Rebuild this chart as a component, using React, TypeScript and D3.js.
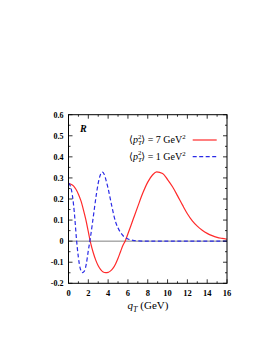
import * as d3 from "d3";

const W = 266;
const H = 344;
// plot frame in page pixels
const FRAME = { left: 68.5, right: 227, top: 114.7, bottom: 283.3 };

const X_DOMAIN = [0, 16];
const Y_DOMAIN = [-0.2, 0.6];

// <pT^2> = 7 GeV^2 (solid red)
const redQ = [0, 0.25, 0.5, 0.75, 1, 1.25, 1.5, 1.75, 2, 2.25, 2.5, 2.75, 3, 3.25, 3.5, 3.75, 4, 4.25, 4.5, 4.75, 5, 5.25, 5.5, 5.75, 6, 6.5, 7, 7.5, 8, 8.5, 8.9, 9.5, 10, 10.5, 11, 11.5, 12, 12.5, 13, 13.5, 14, 14.5, 15, 15.5, 16];
const redR = [0.273, 0.27, 0.262, 0.246, 0.223, 0.192, 0.15, 0.102, 0.045, -0.012, -0.055, -0.09, -0.117, -0.135, -0.146, -0.149, -0.148, -0.141, -0.128, -0.108, -0.081, -0.05, -0.02, 0.003, 0.035, 0.1, 0.165, 0.228, 0.28, 0.315, 0.329, 0.321, 0.292, 0.258, 0.216, 0.172, 0.13, 0.096, 0.071, 0.052, 0.037, 0.026, 0.018, 0.013, 0.009];

// <pT^2> = 1 GeV^2 (dashed blue)
const blueQ = [0, 0.2, 0.4, 0.6, 0.8, 1, 1.2, 1.4, 1.6, 1.8, 2, 2.2, 2.4, 2.6, 2.8, 3, 3.2, 3.4, 3.6, 3.8, 4, 4.2, 4.4, 4.6, 4.8, 5, 5.2, 5.4, 5.6, 5.8, 6, 6.5, 7, 8, 10, 12, 14, 16];
const blueR = [0.276, 0.26, 0.215, 0.13, 0.012, -0.078, -0.132, -0.149, -0.142, -0.107, -0.045, 0.013, 0.08, 0.15, 0.218, 0.275, 0.313, 0.328, 0.318, 0.287, 0.25, 0.205, 0.16, 0.118, 0.085, 0.063, 0.045, 0.032, 0.021, 0.015, 0.01, 0.004, 0.001, 0, 0, 0, 0, 0];

const RED = "#ff2a2a";
const BLUE = "#2a2ae6";
const SERIF = "'Liberation Serif', 'DejaVu Serif', serif";

const fmtY = (t: number) => {
  const v = Math.round(t * 10) / 10;
  return v === 0 ? "0" : v.toFixed(1);
};

export default function App() {
  const x = d3.scaleLinear().domain(X_DOMAIN).range([FRAME.left, FRAME.right]);
  const y = d3.scaleLinear().domain(Y_DOMAIN).range([FRAME.bottom, FRAME.top]);

  const line = d3
    .line<[number, number]>()
    .x((d) => x(d[0]))
    .y((d) => y(d[1]))
    .curve(d3.curveMonotoneX);

  const red = line(redQ.map((q, i) => [q, redR[i]] as [number, number])) || "";
  const blue = line(blueQ.map((q, i) => [q, blueR[i]] as [number, number])) || "";

  const xMajor = x.ticks(8);
  const xMinor = x.ticks(16).filter((t) => !xMajor.includes(t));
  const yMajor = y.ticks(8);
  const yMinor = d3.range(-0.15, 0.6, 0.1);

  const tickColor = "#000";

  return (
    <svg
      width={W}
      height={H}
      style={{ position: "absolute", left: 0, top: 0, background: "#fff" }}
      fontFamily={SERIF}>
      <defs>
        <clipPath id="plot">
          <rect x={FRAME.left} y={FRAME.top} width={FRAME.right - FRAME.left} height={FRAME.bottom - FRAME.top} />
        </clipPath>
      </defs>

      {/* zero line */}
      <line x1={FRAME.left} x2={FRAME.right} y1={y(0)} y2={y(0)} stroke="#808080" strokeWidth={1} />

      {/* curves */}
      <g clipPath="url(#plot)" fill="none">
        <path d={red} stroke={RED} strokeWidth={1.2} />
        <path d={blue} stroke={BLUE} strokeWidth={1.2} strokeDasharray="4 2.5" />
      </g>

      {/* ticks on all four sides, inward */}
      {xMajor.map((t) => (
        <g key={"xM" + t} stroke={tickColor} strokeWidth={0.8}>
          <line x1={x(t)} x2={x(t)} y1={FRAME.bottom} y2={FRAME.bottom - 4} />
          <line x1={x(t)} x2={x(t)} y1={FRAME.top} y2={FRAME.top + 4} />
        </g>
      ))}
      {xMinor.map((t) => (
        <g key={"xm" + t} stroke={tickColor} strokeWidth={0.8}>
          <line x1={x(t)} x2={x(t)} y1={FRAME.bottom} y2={FRAME.bottom - 2} />
          <line x1={x(t)} x2={x(t)} y1={FRAME.top} y2={FRAME.top + 2} />
        </g>
      ))}
      {yMajor.map((t) => (
        <g key={"yM" + t} stroke={tickColor} strokeWidth={0.8}>
          <line x1={FRAME.left} x2={FRAME.left + 4} y1={y(t)} y2={y(t)} />
          <line x1={FRAME.right} x2={FRAME.right - 4} y1={y(t)} y2={y(t)} />
        </g>
      ))}
      {yMinor.map((t) => (
        <g key={"ym" + t} stroke={tickColor} strokeWidth={0.8}>
          <line x1={FRAME.left} x2={FRAME.left + 2} y1={y(t)} y2={y(t)} />
          <line x1={FRAME.right} x2={FRAME.right - 2} y1={y(t)} y2={y(t)} />
        </g>
      ))}

      {/* frame */}
      <rect
        x={FRAME.left}
        y={FRAME.top}
        width={FRAME.right - FRAME.left}
        height={FRAME.bottom - FRAME.top}
        fill="none"
        stroke="#000"
        strokeWidth={1}
      />

      {/* tick labels */}
      {yMajor.map((t) => (
        <text key={"yl" + t} x={FRAME.left - 5} y={y(t)} dy="0.35em" textAnchor="end" fontSize={8} fontWeight="bold">
          {fmtY(t)}
        </text>
      ))}
      {xMajor.map((t) => (
        <text key={"xl" + t} x={x(t)} y={FRAME.bottom + 13} textAnchor="middle" fontSize={8.5} fontWeight="bold">
          {t}
        </text>
      ))}

      {/* axis title */}
      <text x={148} y={309} textAnchor="middle" fontSize={11}>
        <tspan fontStyle="italic">q</tspan>
        <tspan fontStyle="italic" fontSize={8} dy={2.5}>T</tspan>
        <tspan dy={-2.5}> (GeV)</tspan>
      </text>

      {/* panel label */}
      <text x={80} y={132} fontSize={10} fontWeight="bold" fontStyle="italic">
        R
      </text>

      {/* legend */}
      {[
        { label: "7", color: RED, dash: undefined as string | undefined, yy: 140 },
        { label: "1", color: BLUE, dash: "4 2.5", yy: 156.7 },
      ].map((d) => (
        <g key={d.label}>
          <text x={129} y={d.yy + 3} fontSize={10}>
            {"\u27E8"}
            <tspan fontStyle="italic">p</tspan>
            <tspan fontStyle="italic" fontSize={6.8} dy={2}>T</tspan>
            <tspan fontSize={6.8} dx={-3.8} dy={-6.5}>2</tspan>
            <tspan dy={4.5}>{"\u27E9 = " + d.label + " GeV"}</tspan>
            <tspan fontSize={6.8} dy={-4}>2</tspan>
          </text>
          <line x1={192.7} x2={216.7} y1={d.yy} y2={d.yy} stroke={d.color} strokeWidth={1.2} strokeDasharray={d.dash} />
        </g>
      ))}
    </svg>
  );
}
